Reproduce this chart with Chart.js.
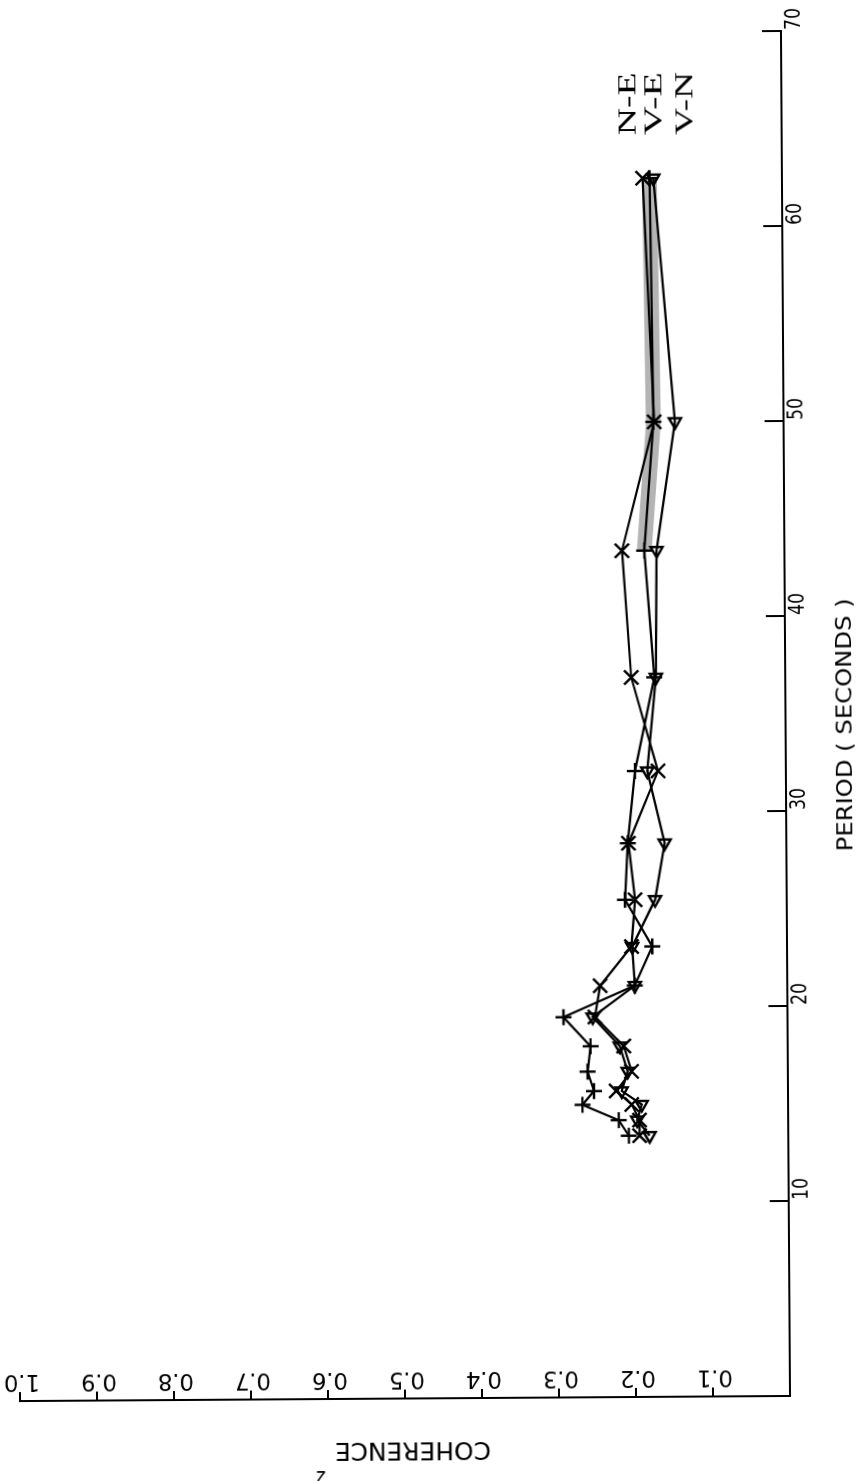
<!DOCTYPE html>
<html><head><meta charset="utf-8">
<script src="https://cdn.jsdelivr.net/npm/chart.js@4.4.1/dist/chart.umd.min.js"></script>
<style>
html,body{margin:0;padding:0;background:#fff;width:866px;height:1481px;overflow:hidden;}
#wrap{position:absolute;left:0;top:0;width:1481px;height:866px;transform-origin:0 0;transform:translate(1.6px,1487.2px) rotate(-90.38deg);}
canvas{display:block;background:#fff;}
</style></head><body>
<div id="wrap"><canvas id="c" width="1481" height="866"></canvas></div>
<script>
// ---- data ----
const periods   = [62.5, 50.0, 43.4, 36.9, 32.1, 28.4, 25.5, 23.1, 21.1, 19.5, 18.0, 16.7, 15.7, 15.0, 14.2, 13.4];
const neValues  = [0.181, 0.168, 0.211, 0.200, 0.166, 0.205, 0.197, 0.202, 0.243, 0.250, 0.213, 0.203, 0.223, 0.203, 0.193, 0.193];
const veValues  = [0.172, 0.169, 0.182, 0.170, 0.196, 0.206, 0.210, 0.175, 0.198, 0.291, 0.256, 0.260, 0.252, 0.267, 0.220, 0.207];
const vnValues  = [0.167, 0.141, 0.166, 0.168, 0.180, 0.158, 0.171, 0.201, 0.198, 0.253, 0.218, 0.208, 0.216, 0.190, 0.196, 0.180];
const seriesLabels   = ['N-E', 'V-E', 'V-N'];
const periodTicks    = [10, 20, 30, 40, 50, 60, 70];
const coherenceTicks = [0.1, 0.2, 0.3, 0.4, 0.5, 0.6, 0.7, 0.8, 0.9, 1.0];
const xTitle = 'PERIOD ( SECONDS )';
const yTitle = 'COHERENCE';

const INK = '#000';
function pts(vals){ return periods.map((p,i)=>({x:p, y:vals[i]})); }

function drawText(ctx, text, x, y, o){
  ctx.save();
  ctx.font = o.font;
  ctx.fillStyle = INK;
  ctx.textAlign = o.align || 'left';
  ctx.textBaseline = o.baseline || 'alphabetic';
  ctx.translate(x, y);
  if (o.rotate) ctx.rotate(o.rotate);
  if (o.width){ const w = ctx.measureText(text).width; ctx.scale(o.width / w, 1); }
  ctx.fillText(text, 0, 0);
  ctx.restore();
}

const axesPlugin = {
  id: 'plotterAxes',
  beforeDatasetsDraw(chart){
    const ctx = chart.ctx, xs = chart.scales.x, ys = chart.scales.y;
    const x0 = xs.getPixelForValue(0), y0 = ys.getPixelForValue(0);
    ctx.save();
    ctx.strokeStyle = INK; ctx.lineWidth = 2; ctx.lineCap = 'square';
    ctx.beginPath();
    ctx.moveTo(x0, y0); ctx.lineTo(xs.getPixelForValue(xs.max), y0);
    ctx.moveTo(x0, y0); ctx.lineTo(x0, ys.getPixelForValue(ys.max));
    ctx.stroke();
    ctx.lineCap = 'butt';
    ctx.beginPath();
    xs.ticks.forEach(t=>{ const px = xs.getPixelForValue(t.value); ctx.moveTo(px, y0); ctx.lineTo(px, y0 - 19); });
    ys.ticks.forEach(t=>{ const py = ys.getPixelForValue(t.value); ctx.moveTo(x0, py); ctx.lineTo(x0 + 9, py); });
    ctx.stroke();
    ctx.restore();
  },
  afterDraw(chart){
    const ctx = chart.ctx, xs = chart.scales.x, ys = chart.scales.y;
    const y0 = ys.getPixelForValue(0), x0 = xs.getPixelForValue(0);
    const tickFont = '21px "DejaVu Sans Condensed", "DejaVu Sans"';
    // period tick labels (below axis, starting at the tick)
    xs.ticks.forEach(t=>{
      const px = xs.getPixelForValue(t.value);
      drawText(ctx, String(t.value), px + 1, y0 + 19, {font:tickFont, width:22});
    });
    // coherence tick labels (inside, parallel to axis)
    ys.ticks.forEach(t=>{
      const py = ys.getPixelForValue(t.value);
      drawText(ctx, t.value.toFixed(1), x0 + 20, py + 2, {font:'23px "DejaVu Sans Condensed", "DejaVu Sans"', align:'center', baseline:'middle', rotate:-Math.PI/2, width:36});
    });
    // axis titles
    drawText(ctx, xTitle, xs.getPixelForValue(34.4), y0 + 60, {font:'22px "DejaVu Sans Condensed", "DejaVu Sans"', align:'center', baseline:'middle', width:253});
    drawText(ctx, yTitle, x0 - 51, ys.getPixelForValue(0.49), {font:'25px "DejaVu Sans Condensed", "DejaVu Sans"', align:'center', baseline:'middle', rotate:-Math.PI/2, width:156});
    drawText(ctx, '2', x0 - 77, ys.getPixelForValue(0.61), {font:'21px "DejaVu Sans"', align:'center', baseline:'middle', rotate:-Math.PI/2, width:11});
    // series labels at the end of the curves
    const lx = xs.getPixelForValue(64.7);
    const ly = [ys.getPixelForValue(0.199), ys.getPixelForValue(0.165), ys.getPixelForValue(0.125)];
    seriesLabels.forEach((s,i)=> drawText(ctx, s, lx, ly[i], {font:'26px "Liberation Serif"', baseline:'middle', width:63}));
  }
};

const common = {borderColor:INK, borderWidth:2.2, tension:0, fill:false, pointBorderColor:INK,
  pointBackgroundColor:'rgba(0,0,0,0)', pointBorderWidth:2.4, pointRadius:8, order:1};

new Chart(document.getElementById('c'), {
  type:'line',
  data:{ datasets:[
    Object.assign({label:seriesLabels[0], data:pts(neValues), pointStyle:'crossRot'}, common, {pointRadius:10}),
    Object.assign({label:seriesLabels[1], data:pts(veValues), pointStyle:'cross'}, common),
    Object.assign({label:seriesLabels[2], data:pts(vnValues), pointStyle:'triangle', pointRotation:270}, common, {pointRadius:7}),
    {label:'smear', data:pts(veValues).slice(0,3), borderColor:'rgba(40,40,40,0.35)', borderWidth:15, pointRadius:0, tension:0, order:5}
  ]},
  options:{
    responsive:false, animation:false, devicePixelRatio:1,
    layout:{padding:{left:86, right:30, top:19, bottom:77}},
    plugins:{legend:{display:false}, tooltip:{enabled:false}},
    events:[],
    scales:{
      x:{type:'linear', min:0, max:70, display:false,
         afterBuildTicks:(s)=>{ s.ticks = periodTicks.map(v=>({value:v})); }},
      y:{type:'linear', min:0, max:1, display:false,
         afterBuildTicks:(s)=>{ s.ticks = coherenceTicks.map(v=>({value:v})); }}
    }
  },
  plugins:[axesPlugin]
});
</script>
</body></html>
